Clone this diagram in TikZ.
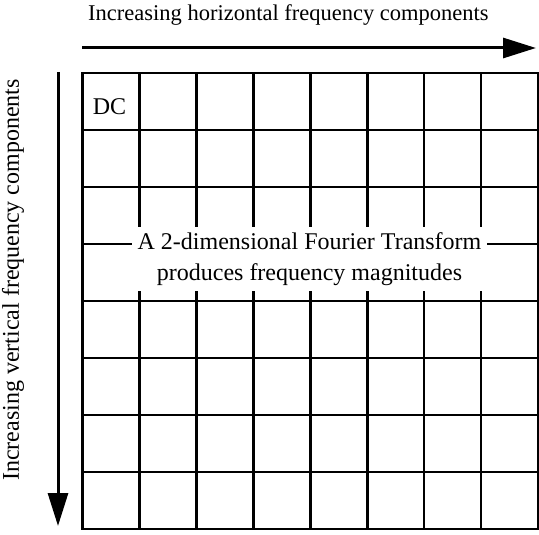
\documentclass[tikz,border=0pt]{standalone}
\usepackage{fontspec}
\setmainfont{Liberation Serif}
\usetikzlibrary{arrows.meta}
\begin{document}
\begin{tikzpicture}[x=1pt,y=-1pt,
  gridline/.style={line width=2.7pt},
  toplbl/.style={font=\fontsize{22.5}{31}\selectfont, inner sep=0pt},
  biglbl/.style={font=\fontsize{24}{31}\selectfont, inner sep=0pt},
  bigarrow/.style={line width=3pt, -{Triangle[length=33pt,width=20pt]}}]
\useasboundingbox (0,0) rectangle (539,535);

% 8 x 8 coefficient grid
\def\gx{82.5}\def\gy{73}\def\cw{56.94}\def\ch{57}
\foreach \i in {1,...,7} {
  \draw[gridline] ({\gx+\i*\cw},\gy) -- ({\gx+\i*\cw},{\gy+8*\ch});
  \draw[gridline] (\gx,{\gy+\i*\ch}) -- ({\gx+8*\cw},{\gy+\i*\ch});
}
\draw[gridline] (\gx,\gy) rectangle ({\gx+8*\cw},{\gy+8*\ch});

% labels inside the grid
\node[biglbl, anchor=base] (dc) at (109.5,115) {DC};
\node[biglbl, fill=white, inner xsep=6pt, inner ysep=5pt, align=center] (ft) at (309.5,259)
  {A 2-dimensional Fourier Transform\\produces frequency magnitudes};

% axis arrows and their captions
\coordinate (hs) at (82,48);
\coordinate (he) at (536,48);
\coordinate (vs) at (58,72);
\coordinate (ve) at (58,526);
\draw[bigarrow] (hs) -- (he);
\draw[bigarrow] (vs) -- (ve);

\node[toplbl, anchor=base west] (htext) at (88,21) {Increasing horizontal frequency components};
\node[biglbl, rotate=90, anchor=base] (vtext) at (19,280) {Increasing vertical frequency components};
\end{tikzpicture}
\end{document}
